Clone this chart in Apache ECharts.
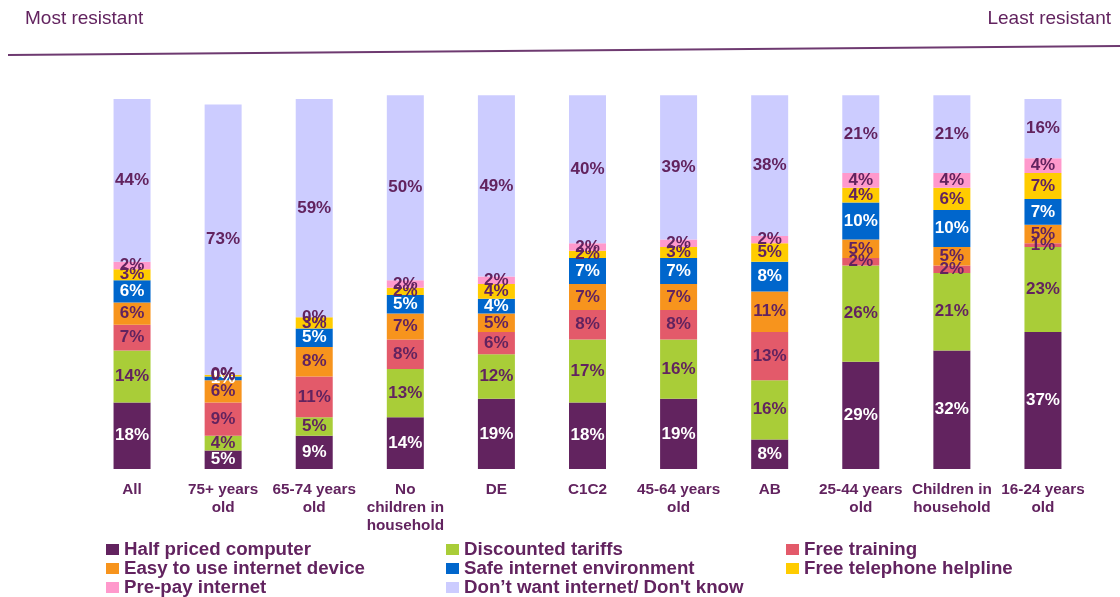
<!DOCTYPE html>
<html>
<head>
<meta charset="utf-8">
<script src="https://cdn.jsdelivr.net/npm/echarts@6/dist/echarts.min.js"></script>
<style>html,body{margin:0;padding:0;background:#fff}#c{width:1120px;height:597px}</style>
</head>
<body>
<div id="c"></div>
<script>
const categories = ["All","75+ years\nold","65-74 years\nold","No\nchildren in\nhousehold","DE","C1C2","45-64 years\nold","AB","25-44 years\nold","Children in\nhousehold","16-24 years\nold"];
const halfPriced   = [18, 5, 9, 14, 19, 18, 19, 8, 29, 32, 37];
const discounted   = [14, 4, 5, 13, 12, 17, 16, 16, 26, 21, 23];
const freeTraining = [7, 9, 11, 8, 6, 8, 8, 13, 2, 2, 1];
const easyDevice   = [6, 6, 8, 7, 5, 7, 7, 11, 5, 5, 5];
const safeInternet = [6, 1, 5, 5, 4, 7, 7, 8, 10, 10, 7];
const helpline     = [3, 0.49, 3, 2, 4, 2, 3, 5, 4, 6, 7];
const prePay       = [2, 0, 0, 2, 2, 2, 2, 2, 4, 4, 4];
const dontWant     = [44, 73, 59, 50, 49, 40, 39, 38, 21, 21, 16];

const PURPLE = '#62235F';
const FONT = 'Liberation Sans, Arial, sans-serif';
const seriesDefs = [
  ['Half priced computer', halfPriced, '#62235F', '#ffffff'],
  ['Discounted tariffs', discounted, '#A9CD38', PURPLE],
  ['Free training', freeTraining, '#E35A6A', PURPLE],
  ['Easy to use internet device', easyDevice, '#F7941D', PURPLE],
  ['Safe internet environment', safeInternet, '#0066CC', '#ffffff'],
  ['Free telephone helpline', helpline, '#FFCC00', PURPLE],
  ['Pre-pay internet', prePay, '#FF99CC', PURPLE],
  ["Don\u2019t want internet/ Don't know", dontWant, '#CCCCFF', PURPLE]
];
const names = seriesDefs.map(d => d[0]);

const chart = echarts.init(document.getElementById('c'), null, {renderer:'canvas'});
const legendBase = {
  orient: 'vertical', itemWidth: 13, itemHeight: 11, itemGap: 0, padding: 0,
  top: 540, height: 90, icon: 'rect', selectedMode: false,
  textStyle: {color: PURPLE, fontWeight: 'bold', fontSize: 18.7, lineHeight: 18, fontFamily: FONT}
};
chart.setOption({
  animation: false,
  grid: {left: 86.5, right: 31.5, top: 62, bottom: 128, containLabel: false},
  xAxis: {
    type: 'category', data: categories,
    axisLine: {show: false}, axisTick: {show: false},
    axisLabel: {interval: 0, color: PURPLE, fontWeight: 'bold', fontSize: 15.3, lineHeight: 18, margin: 12,
      fontFamily: FONT}
  },
  yAxis: {type: 'value', min: 0, max: 110, show: false, splitLine: {show: false}},
  legend: [
    Object.assign({}, legendBase, {left: 106, data: [names[0], names[3], names[6]]}),
    Object.assign({}, legendBase, {left: 446, data: [names[1], names[4], names[7]]}),
    Object.assign({}, legendBase, {left: 786, data: [names[2], names[5]]})
  ],
  graphic: [
    {type: 'text', left: 25, top: 9, style: {text: 'Most resistant', fill: PURPLE, font: '19px ' + FONT}},
    {type: 'text', right: 9, top: 9, style: {text: 'Least resistant', fill: PURPLE, font: '19px ' + FONT}},
    {type: 'line', shape: {x1: 8, y1: 55, x2: 1120, y2: 46}, style: {stroke: '#6E3A70', lineWidth: 2}}
  ],
  series: seriesDefs.map(d => ({
    name: d[0], type: 'bar', stack: 'total', data: d[1], barWidth: 37,
    itemStyle: {color: d[2]},
    clip: false,
    label: {show: true, position: 'inside', color: d[3], fontWeight: 'bold', fontSize: 17,
      fontFamily: FONT,
      formatter: p => Math.round(p.value) + '%'}
  }))
});
</script>
</body>
</html>
